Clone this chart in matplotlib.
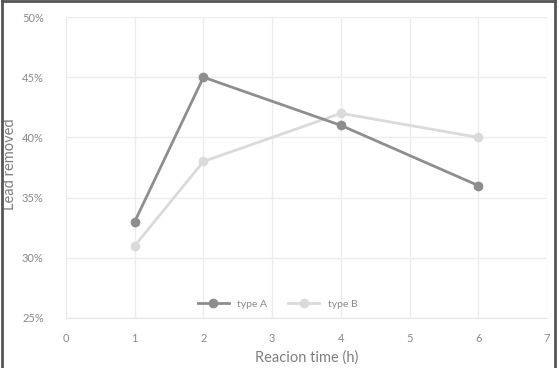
import matplotlib
matplotlib.use("Agg")
import matplotlib.pyplot as plt
from matplotlib.lines import Line2D
from matplotlib.ticker import FuncFormatter

# Dữ liệu
reaction_time = [1, 2, 4, 6]
type_a = [33, 45, 41, 36]
type_b = [31, 38, 42, 40]
series_names = ["type A", "type B"]

plt.rcParams['font.family'] = ['Lato', 'DejaVu Sans']

fig = plt.figure(figsize=(5.59, 3.68), dpi=100)
ax = fig.add_axes([66 / 559, 1 - 318 / 368, (547 - 66) / 559, (318 - 17) / 368])

ax.plot(reaction_time, type_a, color="#8e8e8e", lw=2, marker="o", ms=6, label=series_names[0], zorder=4)
ax.plot(reaction_time, type_b, color="#dadada", lw=2, marker="o", ms=6, label=series_names[1], zorder=3)

ax.set_xlim(0, 7)
ax.set_ylim(25, 50)
ax.set_xticks(range(0, 8))
ax.set_yticks(range(25, 51, 5))
ax.yaxis.set_major_formatter(FuncFormatter(lambda v, p: f"{v:.0f}%"))
ax.grid(True, color="#ececec", lw=1)
ax.set_axisbelow(True)
for s in ax.spines.values():
    s.set_visible(False)
ax.spines["bottom"].set_visible(True)
ax.spines["bottom"].set_color("#e6e6e6")
ax.tick_params(axis="x", length=0, labelsize=8, colors="#8a8a8a", pad=11)
ax.tick_params(axis="y", length=0, labelsize=8, colors="#8a8a8a", pad=16)

ax.set_xlabel("Reacion time (h)", fontsize=10.5, color="#7f7f7f", va="center")
ax.set_ylabel("Lead removed", fontsize=10.5, color="#7f7f7f", va="center")
ax.xaxis.set_label_coords(0.5, -0.13)
ax.yaxis.set_label_coords(-0.116, 0.51)

leg = ax.legend(loc="lower center", bbox_to_anchor=(0.44, 0.0), ncol=2, frameon=False,
                fontsize=7.5, handlelength=3, columnspacing=2)
for t in leg.get_texts():
    t.set_color("#8a8a8a")

# Khung viền
for xs, ys in [([0.003, 0.003], [0, 1]), ([0.003, 0.992], [0.998, 0.998]), ([0.992, 0.992], [0, 1])]:
    fig.add_artist(Line2D(xs, ys, transform=fig.transFigure, color="#555555", lw=2))

fig.savefig("out.png", dpi=100)
